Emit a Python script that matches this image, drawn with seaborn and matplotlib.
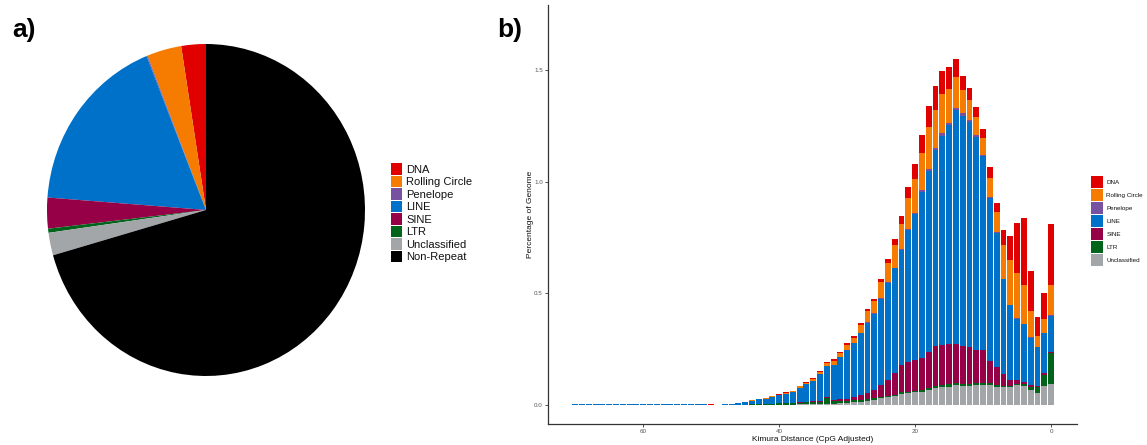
import pandas as pd
import matplotlib
matplotlib.use("Agg")
import matplotlib.pyplot as plt
from matplotlib.patches import Patch
import seaborn as sns

# ---- panel a: genome composition (% of genome) ----
pie_classes = ["DNA", "Rolling Circle", "Penelope", "LINE", "SINE", "LTR",
               "Unclassified", "Non-Repeat"]
pie_share = [2.5, 3.5, 0.1, 17.7, 3.0, 0.4, 2.2, 70.6]

# ---- panel b: repeat landscape, % of genome per Kimura distance bin ----
kimura = list(range(71))
dna = [.271, .119, .087, .182, .298, .224, .110, .064, .042, .048,
       .042, .045, .054, .064, .080, .100, .106, .107, .095, .079,
       .066, .052, .037, .027, .018, .012, .008, .009, .007, .009,
       .007, .007, .006, .006, .005, .004, .004, .003, .003, .003,
       .002, .002, .002, .001, .001, .001, .001, .0005, .0005, .0005,
       .0015, 0, 0, 0, 0, 0, 0, 0, 0, 0,
       0, 0, 0, 0, 0, 0, 0, 0, 0, 0, 0]
rolling = [.137, .060, .048, .116, .176, .201, .198, .152, .087, .084,
           .075, .082, .089, .104, .136, .150, .174, .172, .188, .167,
           .151, .137, .113, .101, .085, .075, .057, .052, .037, .025,
           .022, .015, .018, .012, .010, .008, .007, .006, .004, .004,
           .003, .003, .002, .002, .001, .001, .0005, .0005, 0, 0,
           0, 0, 0, 0, 0, 0, 0, 0, 0, 0,
           0, 0, 0, 0, 0, 0, 0, 0, 0, 0, 0]
penelope = [.002, .002, .002, .002, .002, .002, .002, .003, .004, .005,
            .006, .007, .010, .012, .010, .010, .010, .008, .008, .007,
            .006, .004, .003, .002, .002, .001, .001, .001, .001, 0,
            0, 0, 0, 0, 0, 0, 0, 0, 0, 0,
            0, 0, 0, 0, 0, 0, 0, 0, 0, 0,
            0, 0, 0, 0, 0, 0, 0, 0, 0, 0,
            0, 0, 0, 0, 0, 0, 0, 0, 0, 0, 0]
line = [.161, .176, .173, .212, .257, .273, .336, .425, .602, .728,
        .867, .957, 1.007, 1.029, 1.046, .981, .937, .880, .808, .745,
        .653, .591, .516, .472, .436, .386, .342, .315, .277, .239,
        .218, .191, .156, .137, .118, .090, .078, .065, .046, .041,
        .035, .031, .024, .020, .017, .012, .0075, .0045, .0025, .0015,
        .001, .001, .001, .001, .001, .001, .001, .001, .001, .001,
        .001, .001, .001, .001, .001, .001, .001, .001, .001, .001, .001]
sine = [.007, .012, .006, .007, .010, .018, .025, .050, .079, .100,
        .146, .146, .164, .168, .176, .177, .179, .179, .164, .142,
        .137, .134, .122, .094, .070, .052, .037, .027, .020, .015,
        .010, .010, .008, .007, .005, .004, .003, .002, .002, .001,
        .001, .001, .001, .001, 0, 0, 0, 0, 0, 0,
        0, 0, 0, 0, 0, 0, 0, 0, 0, 0,
        0, 0, 0, 0, 0, 0, 0, 0, 0, 0, 0]
ltr = [.139, .048, .024, .015, .009, .007, .006, .008, .008, .010,
       .011, .010, .010, .010, .010, .012, .008, .008, .008, .008,
       .007, .007, .007, .007, .007, .008, .008, .008, .009, .010,
       .009, .008, .010, .025, .010, .009, .009, .008, .007, .006,
       .005, .004, .003, .003, .002, .001, .001, .0005, 0, 0,
       0, 0, 0, 0, 0, 0, 0, 0, 0, 0,
       0, 0, 0, 0, 0, 0, 0, 0, 0, 0, 0]
unclassified = [.092, .085, .055, .067, .085, .089, .080, .079, .082, .089,
                .089, .088, .086, .086, .089, .082, .082, .075, .067, .060,
                .057, .052, .049, .040, .034, .030, .022, .019, .015, .012,
                .010, .008, .006, .005, .004, .004, .003, .003, .002, .002,
                .002, .001, .001, .001, .001, 0, 0, 0, 0, 0,
                0, .0015, .0015, .0015, .0015, .0015, .0015, .0015, .0015, .0015,
                .0015, .0015, .0015, .0015, .0015, .0015, .0015, .0015, .0015, .0015, .0015]

palette = {
    "DNA": "#E10000",
    "Rolling Circle": "#F57C00",
    "Penelope": "#7752A1",
    "LINE": "#0071C9",
    "SINE": "#950047",
    "LTR": "#00641A",
    "Unclassified": "#A3A6A9",
    "Non-Repeat": "#000000",
}

series = {"DNA": dna, "Rolling Circle": rolling, "Penelope": penelope,
          "LINE": line, "SINE": sine, "LTR": ltr, "Unclassified": unclassified}
bar_classes = list(series.keys())

rows = []
for cls, vals in series.items():
    for k, v in zip(kimura, vals):
        rows.append({"Kimura": k, "Percent": v, "Class": cls})
df = pd.DataFrame(rows)

sns.set_style("white")
plt.rcParams["font.family"] = ["Liberation Sans", "DejaVu Sans"]
plt.rcParams["text.color"] = "black"

W, H = 1147, 445
fig = plt.figure(figsize=(W / 100, H / 100), dpi=100)

# pie panel
ax1 = fig.add_axes([(206 - 159) / W, (H - 210 - 166) / H, 318 / W, 332 / H])
ax1.pie(pie_share, colors=[palette[c] for c in pie_classes], startangle=90,
        counterclock=True, wedgeprops=dict(linewidth=0))
ax1.set_aspect("auto")
ax1.set_xlim(-1, 1)
ax1.set_ylim(-1, 1)
ax1.axis("off")
pie_handles = [Patch(facecolor=palette[c], edgecolor="none", label=c) for c in pie_classes]
ax1.legend(handles=pie_handles, loc="upper left", bbox_to_anchor=(391 / W, 1 - 163 / H),
           bbox_transform=fig.transFigure, frameon=False, fontsize=8,
           handlelength=0.96, handleheight=1.22, labelspacing=0.09,
           handletextpad=0.4, borderpad=0, borderaxespad=0, labelcolor="#111111")

# landscape panel
ax2 = fig.add_axes([548 / W, (H - 424) / H, (1077 - 548) / W, (424 - 5) / H])
sns.histplot(data=df, x="Kimura", weights="Percent", hue="Class",
             hue_order=bar_classes, palette=palette, multiple="stack",
             discrete=True, shrink=0.86, alpha=1, linewidth=0,
             legend=False, ax=ax2)
ax2.set_xlim(74, -3.8)
ax2.set_ylim(-0.085, 1.79)
ax2.set_xticks([60, 40, 20, 0])
ax2.set_xticklabels(["60", "40", "20", "0"])
ax2.set_yticks([0, 0.5, 1.0, 1.5])
ax2.set_yticklabels(["0.0", "0.5", "1.0", "1.5"])
for side in ["top", "right"]:
    ax2.spines[side].set_visible(False)
for side in ["left", "bottom"]:
    ax2.spines[side].set_color("#333333")
    ax2.spines[side].set_linewidth(0.9)
ax2.tick_params(axis="both", which="major", length=2.2, width=0.6, color="#333333",
                labelsize=4.5, labelcolor="#555555", pad=1.5, bottom=True, left=True)
ax2.set_xlabel("Kimura Distance (CpG Adjusted)", fontsize=6, labelpad=1.5, color="#111111")
ax2.set_ylabel("Percentage of Genome", fontsize=6, labelpad=0, color="#111111")

bar_handles = [Patch(facecolor=palette[c], edgecolor="none", label=c) for c in bar_classes]
ax2.legend(handles=bar_handles, loc="upper left", bbox_to_anchor=(1091 / W, 1 - 176 / H),
           bbox_transform=fig.transFigure, frameon=False, fontsize=4.5,
           handlelength=1.87, handleheight=2.65, labelspacing=0.11,
           handletextpad=0.6, borderpad=0, borderaxespad=0, labelcolor="#111111")

fig.text(12 / W, 1 - 30 / H, "a)", fontsize=19, fontweight="bold", va="center", ha="left", color="black")
fig.text(497 / W, 1 - 30 / H, "b)", fontsize=19, fontweight="bold", va="center", ha="left", color="black")

fig.savefig("out.png", dpi=100)
